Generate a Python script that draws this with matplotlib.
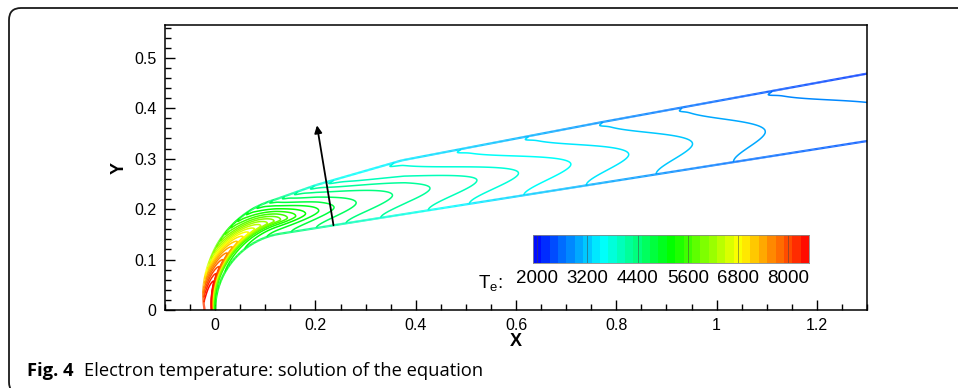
import numpy as np
import matplotlib.pyplot as plt
from matplotlib.colors import LinearSegmentedColormap, Normalize
from matplotlib.collections import LineCollection
from matplotlib.patches import FancyBboxPatch
from matplotlib.transforms import IdentityTransform
from matplotlib.ticker import MultipleLocator, FuncFormatter

plt.rcParams['font.family'] = ['Liberation Sans', 'DejaVu Sans']
plt.rcParams['mathtext.fontset'] = 'custom'
plt.rcParams['mathtext.rm'] = 'Liberation Sans'
plt.rcParams['mathtext.it'] = 'Liberation Sans:italic'

# body: spherical nose joined to a straight flank
nose_r = 0.153
flank_slope = 0.157

# shock stand-off along the body (arc length s, normal distance)
standoff_s = [0.0, 0.084, 0.128, 0.183, 0.301, 0.479, 0.884, 1.422, 1.7]
standoff_d = [0.021, 0.038, 0.049, 0.062, 0.084, 0.106, 0.119, 0.132, 0.136]

# Te levels with the arc length where each level meets the wall, meets the
# shock and reaches furthest downstream inside the layer
te_levels = [2000, 2600, 2800, 3000, 3200, 3400, 3600, 3800, 4000, 4200,
             4400, 4600, 4800, 5000, 5200, 5400, 5600, 5800, 6000, 6200,
             6400, 6600, 6800, 7000, 7200, 7400, 7600, 7800, 8000, 8200,
             8400, 8800]
s_wall = [2.0, 1.6, 1.42, 1.132, 0.976, 0.835, 0.709, 0.599, 0.516, 0.42,
          0.35, 0.29, 0.24, 0.19, 0.14, 0.08, 0.01, -0.06, -0.13, -0.2,
          -0.28, -0.36, -0.45, -0.54, -0.64, -0.75, -0.87, -1.0, -1.15, -1.3,
          -1.5, -2.0]
s_shock = [1.9, 1.45, 1.231, 1.048, 0.887, 0.737, 0.600, 0.464, 0.34, 0.30,
           0.265, 0.238, 0.214, 0.194, 0.176, 0.16, 0.146, 0.133, 0.121, 0.11,
           0.1, 0.09, 0.081, 0.072, 0.064, 0.056, 0.048, 0.04, 0.032, 0.024,
           0.016, -0.02]
s_tip = [2.1, 1.65, 1.46, 1.204, 1.057, 0.928, 0.811, 0.705, 0.621, 0.526,
         0.45, 0.376, 0.331, 0.30, 0.273, 0.253, 0.236, 0.222, 0.21, 0.198,
         0.186, 0.174, 0.162, 0.15, 0.137, 0.124, 0.11, 0.096, 0.082, 0.068,
         0.054, 0.0]

legend_ticks = [2000, 3200, 4400, 5600, 6800, 8000]
legend_boxes = list(range(2000, 8401, 200))

# arrow drawn across the layer
arrow_from = (0.236, 0.168)
arrow_to = (0.203, 0.366)

cmap = LinearSegmentedColormap.from_list(
    'te', ['#0000ff', '#00ffff', '#00ff00', '#ffff00', '#ff0000'])
norm = Normalize(1900, 8500)


def body_and_normal(s):
    a = np.arctan(flank_slope)
    s_join = nose_r * (np.pi / 2 - a)
    th = np.clip(s, None, s_join) / nose_r
    xb = nose_r - nose_r * np.cos(th)
    yb = nose_r * np.sin(th)
    nx, ny = -np.cos(th), np.sin(th)
    flank = s > s_join
    ds = s - s_join
    xb = np.where(flank, xb + ds * np.cos(a), xb)
    yb = np.where(flank, yb + ds * np.sin(a), yb)
    nx = np.where(flank, -np.sin(a), nx)
    ny = np.where(flank, np.cos(a), ny)
    return xb, yb, nx, ny


def smooth(u):
    u = np.clip(u, 0, 1)
    return u * u * (3 - 2 * u)


n_tip = 0.4
sw, ss, st = np.array(s_wall), np.array(s_shock), np.array(s_tip)


def level_positions(n):
    # arc length of every level at normal position n (0 wall, 1 shock)
    if n <= n_tip:
        return sw + (st - sw) * smooth(n / n_tip)
    r = smooth((n - n_tip) / (1 - n_tip)) + 0.06 * np.exp(-((n - 0.95) / 0.03) ** 2)
    return st + (ss - st) * r


s_grid = np.linspace(-0.15, 1.6, 1000)
n_grid = np.linspace(0, 1, 300)
xb, yb, nx, ny = body_and_normal(s_grid)
thick = np.interp(np.abs(s_grid), standoff_s, standoff_d)

X = xb[None, :] + n_grid[:, None] * thick[None, :] * nx[None, :]
Y = yb[None, :] + n_grid[:, None] * thick[None, :] * ny[None, :]

lv = np.array(te_levels, dtype=float)
T = np.empty_like(X)
for i, n in enumerate(n_grid):
    s_lev = level_positions(n)
    T[i] = np.interp(s_grid, s_lev[::-1], lv[::-1])

fig = plt.figure(figsize=(9.58, 3.88), dpi=100)
ax = fig.add_axes([165 / 958, 78 / 388, 702 / 958, 285 / 388])

ax.contour(X, Y, T, levels=legend_boxes, cmap=cmap, norm=norm, linewidths=1.1)

# wall and shock edges
for row in (0, -1):
    pts = np.column_stack([X[row], Y[row]])
    segs = np.stack([pts[:-1], pts[1:]], axis=1)
    edge_val = T[row] - 350
    lc = LineCollection(segs, cmap=cmap, norm=norm, linewidths=1.6)
    lc.set_array(0.5 * (edge_val[:-1] + edge_val[1:]))
    ax.add_collection(lc)

ax.annotate('', xy=arrow_to, xytext=arrow_from,
            arrowprops=dict(arrowstyle='-|>', color='black', lw=1.3,
                            mutation_scale=11, shrinkA=0, shrinkB=0))

ax.set_xlim(-0.1, 1.3)
ax.set_ylim(0, 0.565)
ax.xaxis.set_major_locator(MultipleLocator(0.2))
ax.xaxis.set_minor_locator(MultipleLocator(0.05))
ax.yaxis.set_major_locator(MultipleLocator(0.1))
ax.yaxis.set_minor_locator(MultipleLocator(0.02))
fmt = FuncFormatter(lambda v, p: '%g' % round(v, 3))
ax.xaxis.set_major_formatter(fmt)
ax.yaxis.set_major_formatter(fmt)
ax.tick_params(which='both', direction='in', top=False, right=False,
               labelsize=11.5, width=1)
ax.tick_params(which='major', length=7, pad=6)
ax.tick_params(which='minor', length=4)
for sp in ax.spines.values():
    sp.set_linewidth(1.1)
ax.set_xlabel('X', fontsize=13, fontweight='bold', labelpad=0)
ax.set_ylabel('Y', fontsize=13, fontweight='bold', labelpad=5)

# contour legend
cax = fig.add_axes([533 / 958, 125 / 388, 276 / 958, 28 / 388])
edges = np.arange(1900, 8501, 200)
cax.pcolormesh(edges, [0, 1], np.array(legend_boxes)[None, :],
               cmap=cmap, norm=norm)
cax.vlines(legend_ticks, 0, 1, colors='#444444', lw=0.6, alpha=0.6)
cax.set_xlim(1900, 8500)
cax.set_ylim(0, 1)
cax.set_yticks([])
cax.set_xticks(legend_ticks)
cax.tick_params(axis='x', length=0, labelsize=13.5, pad=5)
for sp in cax.spines.values():
    sp.set_color('#888888')
    sp.set_linewidth(0.6)
fig.text(478 / 958, 100 / 388, r'T$_\mathrm{e}$:', fontsize=13.5,
         va='baseline')

# figure frame and caption
frame = FancyBboxPatch((9, -6), 990, 386, boxstyle='round,pad=0,rounding_size=12',
                       transform=IdentityTransform(), fill=False,
                       ec='#1a1a1a', lw=1.3)
fig.patches.append(frame)
fig.text(27 / 958, 12 / 388, 'Fig. 4', fontsize=13.2,
         fontweight='bold', family='Open Sans', va='baseline')
fig.text(84 / 958, 12 / 388, 'Electron temperature: solution of the equation',
         fontsize=13.2, family='Open Sans', va='baseline')

fig.savefig('out.png', dpi=100)
